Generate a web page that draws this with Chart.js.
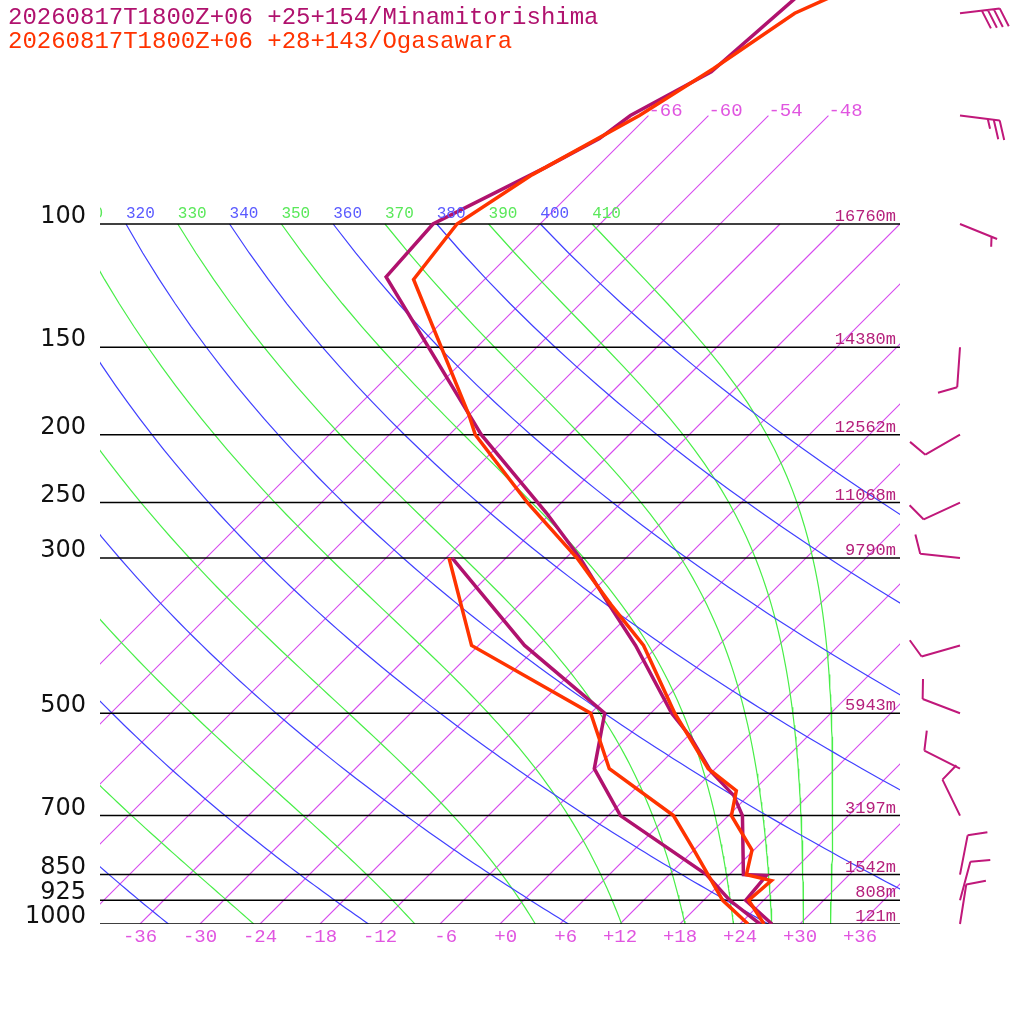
<!DOCTYPE html>
<html>
<head>
<meta charset="utf-8">
<title>Skew-T Minamitorishima / Ogasawara</title>
<script src="https://cdn.jsdelivr.net/npm/chart.js@4.4.1/dist/chart.umd.min.js"></script>
<style>
html, body { margin: 0; padding: 0; background: #fff; }
canvas { display: block; }
</style>
</head>
<body>
<canvas id="skewt" width="1024" height="1024" style="width:1024px;height:1024px"></canvas>
<script>
// ---- data ----
var titleMinami = '20260817T1800Z+06 +25+154/Minamitorishima';
var titleOga = '20260817T1800Z+06 +28+143/Ogasawara';

var pressureLevels = [100, 150, 200, 250, 300, 500, 700, 850, 925, 1000];
var heightLabels = ['16760m', '14380m', '12562m', '11068m', '9790m', '5943m', '3197m', '1542m', '808m', '121m'];
var tempTicks = [-36, -30, -24, -18, -12, -6, 0, 6, 12, 18, 24, 30, 36];

var isothermsHigh = [-66, -60, -54, -48];   // run up to 70 hPa, labelled
var isothermsLow = [-42, -36, -30, -24, -18, -12, -6, 0, 6, 12, 18, 24, 30, 36];
var dryThetas = [240, 260, 280, 300, 320, 340, 360, 380, 400];
var moistThetas = [250, 270, 290, 310, 330, 350, 370, 390, 410];

// Minamitorishima (purple)
var minamiTP = [1000, 925, 853, 850, 700, 655, 605, 540, 500, 400, 350, 300, 259, 200, 119, 100, 83, 75.5, 70, 60.6, 45];
var minamiT = [27.2, 22.2, 21.8, 19.4, 13.4, 10.5, 5.8, 0.3, -3.9, -14.3, -21.0, -28.6, -36.4, -50.8, -76.1, -76.7, -71.1, -68.6, -67.8, -64.1, -62.8];
var minamiDP = [1000, 925, 850, 700, 600, 500, 400, 300];
var minamiTd = [26.0, 20.6, 15.7, 1.2, -6.1, -10.6, -25.4, -41.4];

// Ogasawara (red)
var ogaTP = [1000, 925, 867, 850, 784, 700, 645, 600, 500, 400, 350, 300, 250, 200, 187, 120, 100, 85, 70, 60, 50, 45];
var ogaT = [26.4, 22.5, 22.8, 19.7, 17.8, 12.3, 10.3, 5.3, -3.6, -13.5, -20.8, -28.9, -39.4, -51.4, -54.1, -73.1, -74.3, -71.7, -66.9, -64.2, -61.6, -57.7];
var ogaDP = [1000, 925, 784, 700, 600, 500, 400, 300];
var ogaTd = [24.8, 19.9, 12.0, 6.5, -4.6, -12.0, -30.7, -41.7];

// winds, Minamitorishima (deg, kt)
var windP = [1000, 925, 850, 700, 600, 500, 400, 300, 250, 200, 150, 100, 70, 50];
var windDir = [9, 15, 11, 334, 297, 291, 254, 276, 245, 240, 184, 112, 97, 83];
var windSpd = [10, 10, 10, 10, 10, 10, 10, 10, 10, 10, 10, 5, 25, 40];

// ---- styling ----
var MINAMI = 'rgb(176, 18, 110)';
var OGA = 'rgb(255, 51, 0)';
var HEIGHT_COL = 'rgb(181, 32, 124)';
var ISO_COL = 'rgb(214, 74, 238)';
var ISO_TEXT = 'rgb(224, 85, 224)';
var DRY_COL = 'rgb(64, 64, 255)';
var MOIST_COL = 'rgb(72, 238, 72)';

// ---- skew-T geometry ----
var P_TOP = 1000 * Math.pow(10, -924 / 700);  // pressure at the top edge
var SKEW = 70;                                // degC shift per decade of pressure
var KAPPA = 0.2857;

function skewX(t, p) {
	return t + SKEW * Math.log10(1000 / p);
}

function profile(ps, ts) {
	return ps.map(function(p, i) { return {x: skewX(ts[i], p), y: p}; });
}

function dryAdiabat(theta) {
	var pts = [];
	for (var p = 100; p <= 1000; p += 10) {
		pts.push({x: skewX(theta * Math.pow(p / 1000, KAPPA) - 273.15, p), y: p});
	}
	return pts;
}

function dTdp(p, t) {
	var es = 6.112 * Math.exp(17.67 * (t - 273.15) / (t - 29.65));
	var rs = 0.622 * es / (p - es);
	return (287.04 * t + 2.501e6 * rs) / (1005.7 + 2.501e6 * 2.501e6 * rs * 0.622 / (287.04 * t * t)) / p;
}

// saturated adiabat, started at 100 hPa on the dry adiabat of theta
function moistAdiabat(theta) {
	var t = theta * Math.pow(0.1, KAPPA);
	var pts = [{x: skewX(t - 273.15, 100), y: 100}];
	for (var p = 100; p < 1000; p++) {
		var k1 = dTdp(p, t);
		var k2 = dTdp(p + 0.5, t + 0.5 * k1);
		var k3 = dTdp(p + 0.5, t + 0.5 * k2);
		var k4 = dTdp(p + 1, t + k3);
		t += (k1 + 2 * k2 + 2 * k3 + k4) / 6;
		if ((p + 1) % 10 === 0) pts.push({x: skewX(t - 273.15, p + 1), y: p + 1});
	}
	return pts;
}

function line(points, color, width, order) {
	return {
		data: points,
		borderColor: color,
		backgroundColor: color,
		borderWidth: width,
		pointRadius: 0,
		pointHoverRadius: 0,
		fill: false,
		tension: 0,
		clip: 0,
		order: order
	};
}

var datasets = [];
// soundings (lowest order is drawn on top)
datasets.push(line(profile(ogaTP, ogaT), OGA, 3.5, 0));
datasets.push(line(profile(ogaDP, ogaTd), OGA, 3.5, 0));
datasets.push(line(profile(minamiTP, minamiT), MINAMI, 3.5, 1));
datasets.push(line(profile(minamiDP, minamiTd), MINAMI, 3.5, 1));
// pressure levels
pressureLevels.forEach(function(p) {
	datasets.push(line([{x: -40, y: p}, {x: 40, y: p}], '#000', 1.5, 2));
});
// background
isothermsHigh.forEach(function(t) {
	datasets.push(line([{x: skewX(t, 1000), y: 1000}, {x: skewX(t, 70), y: 70}], ISO_COL, 1.1, 5));
});
isothermsLow.forEach(function(t) {
	datasets.push(line([{x: skewX(t, 1000), y: 1000}, {x: skewX(t, 100), y: 100}], ISO_COL, 1.1, 5));
});
dryThetas.forEach(function(th) { datasets.push(line(dryAdiabat(th), DRY_COL, 1.2, 4)); });
moistThetas.forEach(function(th) { datasets.push(line(moistAdiabat(th), MOIST_COL, 1.2, 4)); });

function drawBarb(ctx, x0, y0, dir, spd, color) {
	var r = dir * Math.PI / 180;
	var ux = Math.sin(r), uy = -Math.cos(r);
	var ex = x0 + ux * 40, ey = y0 + uy * 40;
	var a = 70 * Math.PI / 180;
	var fx = ux * Math.cos(a) - uy * Math.sin(a);
	var fy = ux * Math.sin(a) + uy * Math.cos(a);
	var n = Math.round(spd / 5);
	var full = Math.floor(n / 2), half = n % 2;
	ctx.strokeStyle = color;
	ctx.lineWidth = 2;
	ctx.beginPath();
	ctx.moveTo(x0, y0);
	ctx.lineTo(ex, ey);
	var pos = 0;
	for (var i = 0; i < full; i++) {
		var bx = ex - ux * pos, by = ey - uy * pos;
		ctx.moveTo(bx, by);
		ctx.lineTo(bx + fx * 20, by + fy * 20);
		pos += 6;
	}
	if (half) {
		if (full === 0) pos = 6;
		var hx = ex - ux * pos, hy = ey - uy * pos;
		ctx.moveTo(hx, hy);
		ctx.lineTo(hx + fx * 10, hy + fy * 10);
	}
	ctx.stroke();
}

var skewtText = {
	id: 'skewtText',
	afterDatasetsDraw: function(chart) {
		var ctx = chart.ctx, xs = chart.scales.x, ys = chart.scales.y, area = chart.chartArea;
		ctx.save();
		ctx.textBaseline = 'alphabetic';

		ctx.textAlign = 'left';
		ctx.font = '24px "Liberation Mono"';
		ctx.fillStyle = MINAMI;
		ctx.fillText(titleMinami, 8, 24);
		ctx.fillStyle = OGA;
		ctx.fillText(titleOga, 8, 48);

		ctx.textAlign = 'right';
		ctx.font = '24px "DejaVu Sans"';
		ctx.fillStyle = '#111';
		pressureLevels.forEach(function(p) {
			ctx.fillText(String(p), 86, ys.getPixelForValue(p) - 1);
		});

		ctx.font = '17px "Liberation Mono"';
		ctx.fillStyle = HEIGHT_COL;
		pressureLevels.forEach(function(p, i) {
			ctx.fillText(heightLabels[i], 896, ys.getPixelForValue(p) - 3);
		});

		ctx.textAlign = 'center';
		ctx.font = '19px "Liberation Mono"';
		ctx.fillStyle = ISO_TEXT;
		tempTicks.forEach(function(t) {
			var s = (t >= 0 ? '+' + t : String(t));
			while (s.length < 3) s = ' ' + s;
			ctx.fillText(s, xs.getPixelForValue(skewX(t, 1000)), 942);
		});

		ctx.textAlign = 'left';
		isothermsHigh.forEach(function(t) {
			ctx.fillText(String(t), xs.getPixelForValue(skewX(t, 70)), ys.getPixelForValue(70));
		});

		// adiabat labels along the 100 hPa line
		ctx.save();
		ctx.beginPath();
		ctx.rect(area.left, area.top, area.right - area.left, area.bottom - area.top);
		ctx.clip();
		ctx.font = '16px "Liberation Mono"';
		var yl = ys.getPixelForValue(100) - 6;
		dryThetas.concat(moistThetas).forEach(function(th) {
			ctx.fillStyle = dryThetas.indexOf(th) >= 0 ? 'rgb(90, 90, 255)' : 'rgb(90, 232, 90)';
			var x = xs.getPixelForValue(skewX(th * Math.pow(0.1, KAPPA) - 273.15, 100));
			ctx.fillText(String(th), x, yl);
		});
		ctx.restore();

		windP.forEach(function(p, i) {
			drawBarb(ctx, 960, ys.getPixelForValue(p), windDir[i], windSpd[i], 'rgb(192, 24, 122)');
		});
		ctx.restore();
	}
};

new Chart(document.getElementById('skewt'), {
	type: 'line',
	data: {datasets: datasets},
	options: {
		responsive: false,
		devicePixelRatio: 1,
		animation: false,
		events: [],
		layout: {padding: {left: 100, right: 124, top: 0, bottom: 100}},
		scales: {
			x: {type: 'linear', min: -40, max: 40, display: false},
			y: {type: 'logarithmic', min: P_TOP, max: 1000, reverse: true, display: false}
		},
		plugins: {legend: {display: false}, tooltip: {enabled: false}}
	},
	plugins: [skewtText]
});
</script>
</body>
</html>
